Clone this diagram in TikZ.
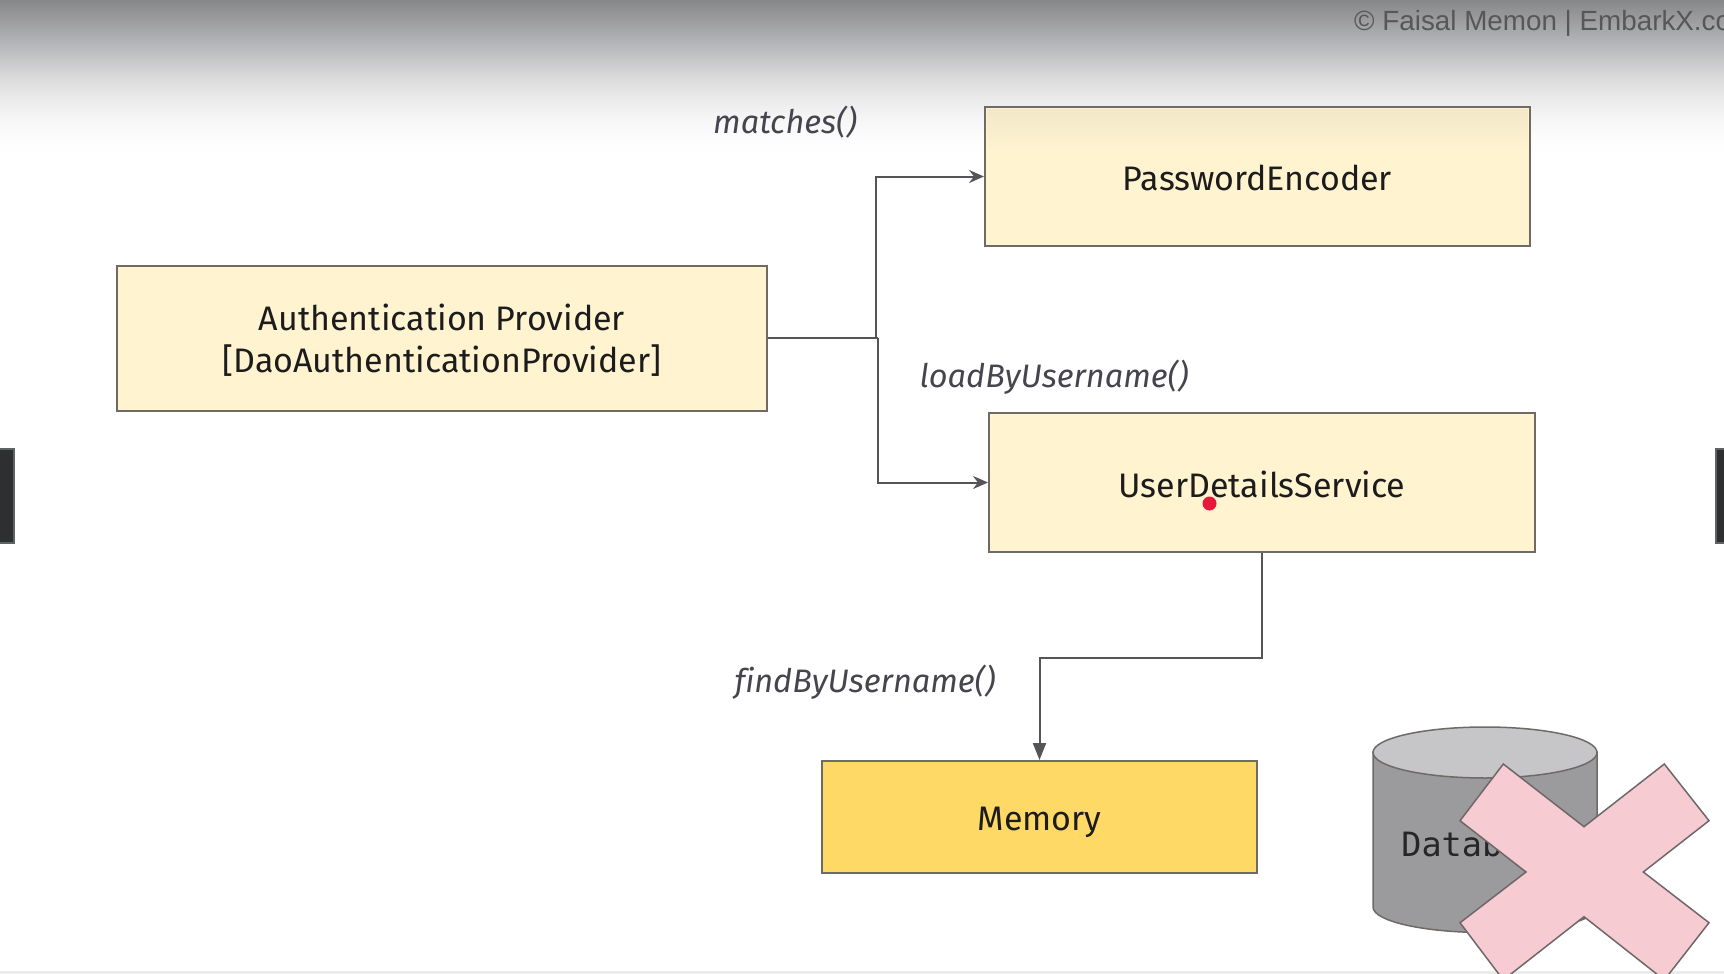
\documentclass[tikz,border=0pt]{standalone}
\usepackage{fontspec}
\setmainfont[Ligatures=NoCommon]{Fira Sans}
\newfontfamily\headfont{Liberation Sans}
\newfontfamily\dbfont{DejaVu Sans Mono}
\usetikzlibrary{arrows.meta}
\definecolor{boxfill}{HTML}{FFF3D0}
\definecolor{boxtop}{HTML}{F2E8C8}
\definecolor{boxline}{HTML}{6E6A66}
\definecolor{memfill}{HTML}{FFD966}
\definecolor{wire}{HTML}{555458}
\definecolor{labelink}{HTML}{45454E}
\definecolor{flowink}{HTML}{1C1C1C}
\definecolor{cylside}{HTML}{9B9A9D}
\definecolor{cyltop}{HTML}{C6C5C8}
\definecolor{crossfill}{HTML}{F6CCD2}
\definecolor{crossline}{HTML}{6F6669}
\definecolor{barfill}{HTML}{2D2F31}
\definecolor{barline}{HTML}{5E6265}
\definecolor{shadetop}{HTML}{87888A}
\definecolor{shademid}{HTML}{D8D8D9}
\definecolor{dotred}{HTML}{E8183C}
\tikzset{
  x=1pt,y=-1pt,
  flow/.style={draw=boxline,line width=2pt,fill=boxfill,inner sep=0pt},
  flowtext/.style={text=flowink,align=center,inner sep=0pt,font=\fontsize{34}{42}\selectfont},
  methodlabel/.style={text=labelink,inner sep=0pt,font=\fontsize{32.5}{38}\selectfont\itshape},
  wirepath/.style={draw=wire,line width=2pt},
  openhead/.style={-{Stealth[length=15pt,width=13pt,inset=5pt]}},
  solidhead/.style={-{Stealth[length=17pt,width=13pt,inset=0pt]}},
  sidebar/.style={draw=barline,line width=2pt,fill=barfill},
}
\begin{document}
\begin{tikzpicture}
\useasboundingbox (0,0) rectangle (1724,974);
\clip (0,0) rectangle (1724,974);
\fill[white] (0,0) rectangle (1724,974);
% page shading, laid down as thin overlapping strips
\foreach \yy in {0,2,...,74} {
  \pgfmathsetmacro\mixval{\yy/75*100}
  \fill[shademid!\mixval!shadetop] (0,\yy) rectangle (1724,\yy+3);
}
\foreach \yy in {75,77,...,159} {
  \pgfmathsetmacro\mixval{100*(1-(1-(\yy-75)/85)^2)}
  \fill[white!\mixval!shademid] (0,\yy) rectangle (1724,\yy+3);
}
\fill[black!8] (0,971) rectangle (1724,974);
% boxes
\node[flow,minimum width=545pt,minimum height=139pt,
  label={[flowtext,yshift=-1.5pt]center:PasswordEncoder}] (pe) at (1257.5,176.5) {};
\foreach \yy in {109,111,...,149} {
  \pgfmathsetmacro\mixval{(\yy-109)/41*100}
  \fill[boxfill!\mixval!boxtop] (987,\yy) rectangle (1528,\yy+3);
}
\node[flow,minimum width=650pt,minimum height=145pt,
  label={[flowtext,yshift=-2.5pt]center:{Authentication Provider\\{}[DaoAuthenticationProvider]}}] (ap) at (442,338) {};
\node[flow,minimum width=546pt,minimum height=139pt,
  label={[flowtext,yshift=-2pt]center:UserDetailsService}] (uds) at (1262,482.5) {};
\node[flow,fill=memfill,minimum width=435pt,minimum height=112pt,
  label={[flowtext,yshift=-5pt]center:Memory}] (mem) at (1039.5,817) {};
% connectors
\coordinate (ju) at (876,338);
\coordinate (jd) at (878,338);
\coordinate (jm) at (1262,657.5);
\coordinate (jn) at (1039.5,657.5);
\draw[wirepath] (ap.east) -- (jd);
\draw[wirepath,openhead] (ju) |- (pe.west);
\draw[wirepath,openhead] (jd) |- (uds.west);
\draw[wirepath,solidhead] (uds.south) -- (jm) -- (jn) -- (mem.north);
% labels
\node[methodlabel] (l1) at (785,122) {matches()};
\node[methodlabel] (l2) at (1054,377) {loadByUsername()};
\node[methodlabel] (l3) at (865,682) {findByUsername()};
% database cylinder
\path[draw=boxline,line width=1.5pt,fill=cylside] (1373,752) -- (1373,907)
  arc[start angle=180,end angle=360,x radius=112,y radius=-25.5] -- (1597,752) -- cycle;
\draw[draw=boxline,line width=1.5pt,fill=cyltop] (1485,752.5) ellipse[x radius=112,y radius=25.5];
\node[inner sep=0pt,text=black!85,font=\fontsize{33.5}{40}\selectfont\dbfont] (db) at (1482,844) {Database};
% cross
\draw[draw=crossline,line width=1.5pt,fill=crossfill,line join=miter]
  (1503.3,764) -- (1584,826.7) -- (1664.3,764) -- (1709,820.7) -- (1643.3,872) -- (1709,922.7)
  -- (1664.3,980) -- (1584,916.7) -- (1503.3,980) -- (1460,922.7) -- (1526,872) -- (1460,820.7) -- cycle;
% pointer dot
\fill[dotred] (1209.5,503.5) circle[radius=7];
% side handles
\draw[sidebar] (-5,448.5) rectangle (14,542.5);
\draw[sidebar] (1716,448.5) rectangle (1730,542.5);
% watermark
\node[anchor=west,inner sep=0pt,text=black!66,font=\fontsize{27.8}{32}\selectfont\headfont] (mark) at (1354,23) {© Faisal Memon | EmbarkX.com};
\end{tikzpicture}
\end{document}
